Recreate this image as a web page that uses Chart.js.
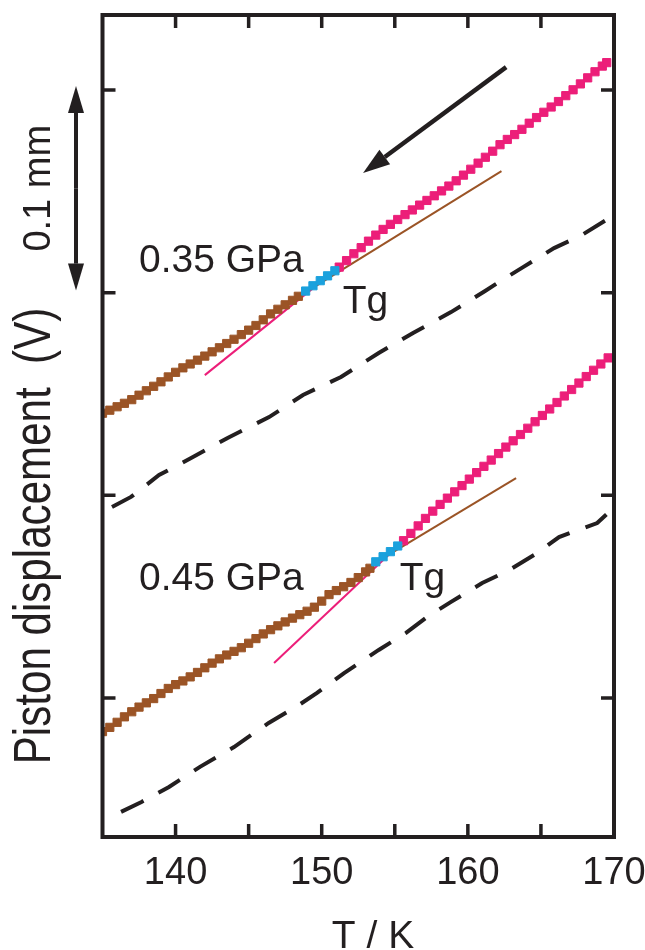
<!DOCTYPE html>
<html>
<head>
<meta charset="utf-8">
<script src="https://cdn.jsdelivr.net/npm/chart.js@4/dist/chart.umd.min.js"></script>
<style>
  html, body { margin: 0; padding: 0; background: #fff; }
  canvas { display: block; }
</style>
</head>
<body>
<canvas id="chart" width="645" height="950"></canvas>
<script>
// axis ticks
const xTickLabels = [140, 150, 160, 170];
const xTickMarks = [140, 145, 150, 155, 160, 165];
const yTickMarks = [0, 1, 2, 3];

// 0.35 GPa run (T in K, piston displacement in arbitrary units, 1 unit = 0.1 mm)
const hiGlassT = [135.0, 135.5, 136.0, 136.5, 137.0, 137.5, 138.0, 138.5, 139.0, 139.5, 140.0, 140.5, 141.0, 141.5,
  142.0, 142.5, 143.0, 143.5, 144.0, 144.5, 145.0, 145.5, 146.0, 146.5, 147.0, 147.5, 148.0, 148.4];
const hiGlassV = [1.405, 1.420, 1.437, 1.454, 1.472, 1.494, 1.516, 1.538, 1.560, 1.584, 1.607, 1.629, 1.648, 1.667,
  1.687, 1.708, 1.728, 1.749, 1.770, 1.793, 1.815, 1.838, 1.866, 1.895, 1.918, 1.940, 1.962, 1.982];
const hiTgT = [148.9, 149.4, 149.9, 150.4, 150.9];
const hiTgV = [2.008, 2.034, 2.059, 2.083, 2.108];
const hiLiquidT = [151.2, 151.7, 152.2, 152.7, 153.2, 153.7, 154.2, 154.7, 155.2, 155.7, 156.2, 156.7, 157.2, 157.7,
  158.2, 158.7, 159.2, 159.7, 160.2, 160.7, 161.2, 161.7, 162.2, 162.7, 163.2, 163.7, 164.2, 164.7,
  165.2, 165.7, 166.2, 166.7, 167.2, 167.7, 168.2, 168.7, 169.2, 169.5];
const hiLiquidV = [2.126, 2.158, 2.192, 2.222, 2.254, 2.284, 2.312, 2.337, 2.361, 2.385, 2.408, 2.432, 2.455, 2.478,
  2.502, 2.526, 2.552, 2.580, 2.609, 2.639, 2.668, 2.698, 2.730, 2.756, 2.780, 2.806, 2.836, 2.864,
  2.890, 2.916, 2.943, 2.972, 3.001, 3.030, 3.060, 3.090, 3.118, 3.135];
const hiGlassFitT = [149.0, 162.3];
const hiGlassFitV = [2.006, 2.600];
const hiLiquidFitT = [142.0, 151.2];
const hiLiquidFitV = [1.593, 2.126];
const hiBlankT = [135.65, 136.95, 138.87, 141.19, 143.56, 146.40, 148.72, 151.32, 153.90, 156.25, 158.85, 161.18,
  162.34, 163.78, 165.90, 167.68, 169.67];
const hiBlankV = [0.942, 0.992, 1.100, 1.189, 1.283, 1.386, 1.495, 1.584, 1.702, 1.801, 1.904, 2.008,
  2.062, 2.126, 2.220, 2.279, 2.368];

// 0.45 GPa run
const loGlassT = [135.0, 135.5, 136.0, 136.5, 137.0, 137.5, 138.0, 138.5, 139.0, 139.5, 140.0, 140.5, 141.0, 141.5,
  142.0, 142.5, 143.0, 143.5, 144.0, 144.5, 145.0, 145.5, 146.0, 146.5, 147.0, 147.5, 148.0, 148.5,
  149.0, 149.5, 150.0, 150.5, 151.0, 151.5, 152.0, 152.5, 153.0, 153.3];
const loGlassV = [-0.166, -0.145, -0.120, -0.093, -0.068, -0.045, -0.024, -0.003, 0.022, 0.047, 0.066, 0.084, 0.104, 0.126,
  0.149, 0.172, 0.193, 0.212, 0.230, 0.248, 0.270, 0.293, 0.316, 0.337, 0.356, 0.375, 0.394, 0.411,
  0.428, 0.448, 0.478, 0.510, 0.530, 0.549, 0.570, 0.594, 0.622, 0.640];
const loTgT = [153.7, 154.2, 154.7, 155.2];
const loTgV = [0.672, 0.697, 0.722, 0.750];
const loLiquidT = [155.6, 156.1, 156.6, 157.1, 157.6, 158.1, 158.6, 159.1, 159.6, 160.1, 160.6, 161.1, 161.6, 162.1,
  162.6, 163.1, 163.6, 164.1, 164.6, 165.1, 165.6, 166.1, 166.6, 167.1, 167.6, 168.1, 168.6, 169.1, 169.6];
const loLiquidV = [0.776, 0.812, 0.849, 0.886, 0.922, 0.955, 0.986, 1.017, 1.048, 1.080, 1.112, 1.143, 1.174, 1.206,
  1.238, 1.269, 1.300, 1.331, 1.363, 1.394, 1.426, 1.458, 1.490, 1.522, 1.554, 1.586, 1.617, 1.648, 1.678];
const loGlassFitT = [154.0, 163.3];
const loGlassFitV = [0.681, 1.085];
const loLiquidFitT = [146.74, 155.6];
const loLiquidFitV = [0.173, 0.776];
const loBlankT = [136.27, 137.67, 139.55, 141.67, 144.00, 146.37, 148.24, 149.68, 151.53, 153.90, 155.77, 157.21,
  158.85, 160.98, 162.82, 164.74, 166.24, 168.85, 169.67];
const loBlankV = [-0.562, -0.513, -0.439, -0.340, -0.242, -0.123, -0.044, 0.025, 0.123, 0.237, 0.321, 0.400,
  0.474, 0.567, 0.631, 0.715, 0.794, 0.863, 0.918];

// labels inside the plot, placed in data coordinates (left edge, baseline)
const notes = [
  { text: '0.35 GPa', t: 137.5, v: 2.102 },
  { text: 'Tg', t: 151.44, v: 1.899 },
  { text: '0.45 GPa', t: 137.5, v: 0.533 },
  { text: 'Tg', t: 155.34, v: 0.533 }
];
// cooling direction arrow (from -> to) and 0.1 mm scale bar ends
const coolArrow = [[162.62, 3.113], [152.83, 2.590]];
const scaleBar = [3.02, 2.01];

const PINK = '#ec1e79';
const BROWN = '#9b5426';
const BLUE = '#1ba1dd';
const INK = '#231f20';
const FONT = '"Liberation Sans", Arial, sans-serif';

const pts = (ts, vs) => ts.map((t, i) => ({ x: t, y: vs[i] }));

const markers = (ts, vs, color) => ({
  data: pts(ts, vs), showLine: false,
  pointStyle: 'rect', pointRadius: 5.8, pointBorderWidth: 1,
  pointBackgroundColor: color, pointBorderColor: color
});
const fitLine = (ts, vs, color) => ({
  data: pts(ts, vs), showLine: true, borderColor: color, borderWidth: 2, pointRadius: 0
});
const dashLine = (ts, vs) => ({
  data: pts(ts, vs), showLine: true, borderColor: INK, borderWidth: 4,
  borderDash: [25, 17], pointRadius: 0
});

function arrow(ctx, x1, y1, x2, y2, len, half, lw) {
  const a = Math.atan2(y2 - y1, x2 - x1);
  const bx = x2 - len * Math.cos(a), by = y2 - len * Math.sin(a);
  ctx.lineWidth = lw;
  ctx.beginPath(); ctx.moveTo(x1, y1); ctx.lineTo(bx, by); ctx.stroke();
  ctx.beginPath();
  ctx.moveTo(x2, y2);
  ctx.lineTo(bx + half * Math.sin(a), by - half * Math.cos(a));
  ctx.lineTo(bx - half * Math.sin(a), by + half * Math.cos(a));
  ctx.closePath(); ctx.fill();
}

const decor = {
  id: 'decor',
  afterDatasetsDraw(chart) {
    const { ctx, chartArea: ca, scales: { x, y } } = chart;
    ctx.save();
    ctx.strokeStyle = INK; ctx.fillStyle = INK;

    // frame and inward ticks
    ctx.lineWidth = 4;
    ctx.strokeRect(ca.left, ca.top, ca.right - ca.left, ca.bottom - ca.top);
    ctx.lineWidth = 3.5;
    ctx.beginPath();
    xTickMarks.forEach(v => {
      const px = x.getPixelForValue(v);
      ctx.moveTo(px, ca.bottom); ctx.lineTo(px, ca.bottom - 13);
      ctx.moveTo(px, ca.top); ctx.lineTo(px, ca.top + 13);
    });
    yTickMarks.forEach(v => {
      const py = y.getPixelForValue(v);
      ctx.moveTo(ca.left, py); ctx.lineTo(ca.left + 13, py);
      ctx.moveTo(ca.right, py); ctx.lineTo(ca.right - 13, py);
    });
    ctx.stroke();

    // notes
    ctx.font = '39px ' + FONT;
    ctx.textAlign = 'left'; ctx.textBaseline = 'alphabetic';
    notes.forEach(n => ctx.fillText(n.text, x.getPixelForValue(n.t), y.getPixelForValue(n.v)));

    // cooling arrow
    arrow(ctx, x.getPixelForValue(coolArrow[0][0]), y.getPixelForValue(coolArrow[0][1]),
      x.getPixelForValue(coolArrow[1][0]), y.getPixelForValue(coolArrow[1][1]), 27, 9, 4.5);

    // 0.1 mm bar (double headed)
    const top = y.getPixelForValue(scaleBar[0]), bot = y.getPixelForValue(scaleBar[1]);
    const mid = (top + bot) / 2;
    arrow(ctx, 76, mid, 76, top, 27, 8, 4);
    arrow(ctx, 76, mid, 76, bot, 27, 8, 4);

    // rotated texts
    ctx.save();
    ctx.translate(50, (top + bot) / 2);
    ctx.rotate(-Math.PI / 2);
    ctx.textAlign = 'center';
    ctx.font = '38px ' + FONT;
    ctx.fillText('0.1 mm', 0, 0);
    ctx.restore();

    ctx.save();
    ctx.translate(50, 536);
    ctx.rotate(-Math.PI / 2);
    ctx.scale(0.81, 1);
    ctx.textAlign = 'center';
    ctx.font = '52px ' + FONT;
    ctx.fillText('Piston displacement  (V)', 0, 0);
    ctx.restore();

    // x title
    ctx.textAlign = 'center';
    ctx.font = '39px ' + FONT;
    ctx.fillText('T / K', 373, 948);
    ctx.restore();
  }
};

new Chart(document.getElementById('chart'), {
  type: 'scatter',
  data: {
    datasets: [
      markers(hiTgT, hiTgV, BLUE),
      markers(loTgT, loTgV, BLUE),
      markers(hiGlassT, hiGlassV, BROWN),
      markers(hiLiquidT, hiLiquidV, PINK),
      markers(loGlassT, loGlassV, BROWN),
      markers(loLiquidT, loLiquidV, PINK),
      fitLine(hiGlassFitT, hiGlassFitV, BROWN),
      fitLine(hiLiquidFitT, hiLiquidFitV, PINK),
      fitLine(loGlassFitT, loGlassFitV, BROWN),
      fitLine(loLiquidFitT, loLiquidFitV, PINK),
      dashLine(hiBlankT, hiBlankV),
      dashLine(loBlankT, loBlankV)
    ]
  },
  options: {
    responsive: false,
    animation: false,
    devicePixelRatio: 1,
    layout: { padding: { left: 102.5, top: 15, right: 31, bottom: 0 } },
    plugins: { legend: { display: false }, tooltip: { enabled: false } },
    scales: {
      x: {
        type: 'linear', min: 135, max: 170,
        afterBuildTicks: s => { s.ticks = xTickLabels.map(v => ({ value: v })); },
        afterFit: s => { s.height = 113; s.paddingLeft = 0; s.paddingRight = 0; },
        ticks: { color: INK, padding: 14, maxRotation: 0, autoSkip: false, font: { family: FONT, size: 38 } },
        grid: { display: false, drawTicks: false },
        border: { display: false }
      },
      y: { type: 'linear', min: -0.686, max: 3.37, display: false }
    }
  },
  plugins: [decor]
});
</script>
</body>
</html>
